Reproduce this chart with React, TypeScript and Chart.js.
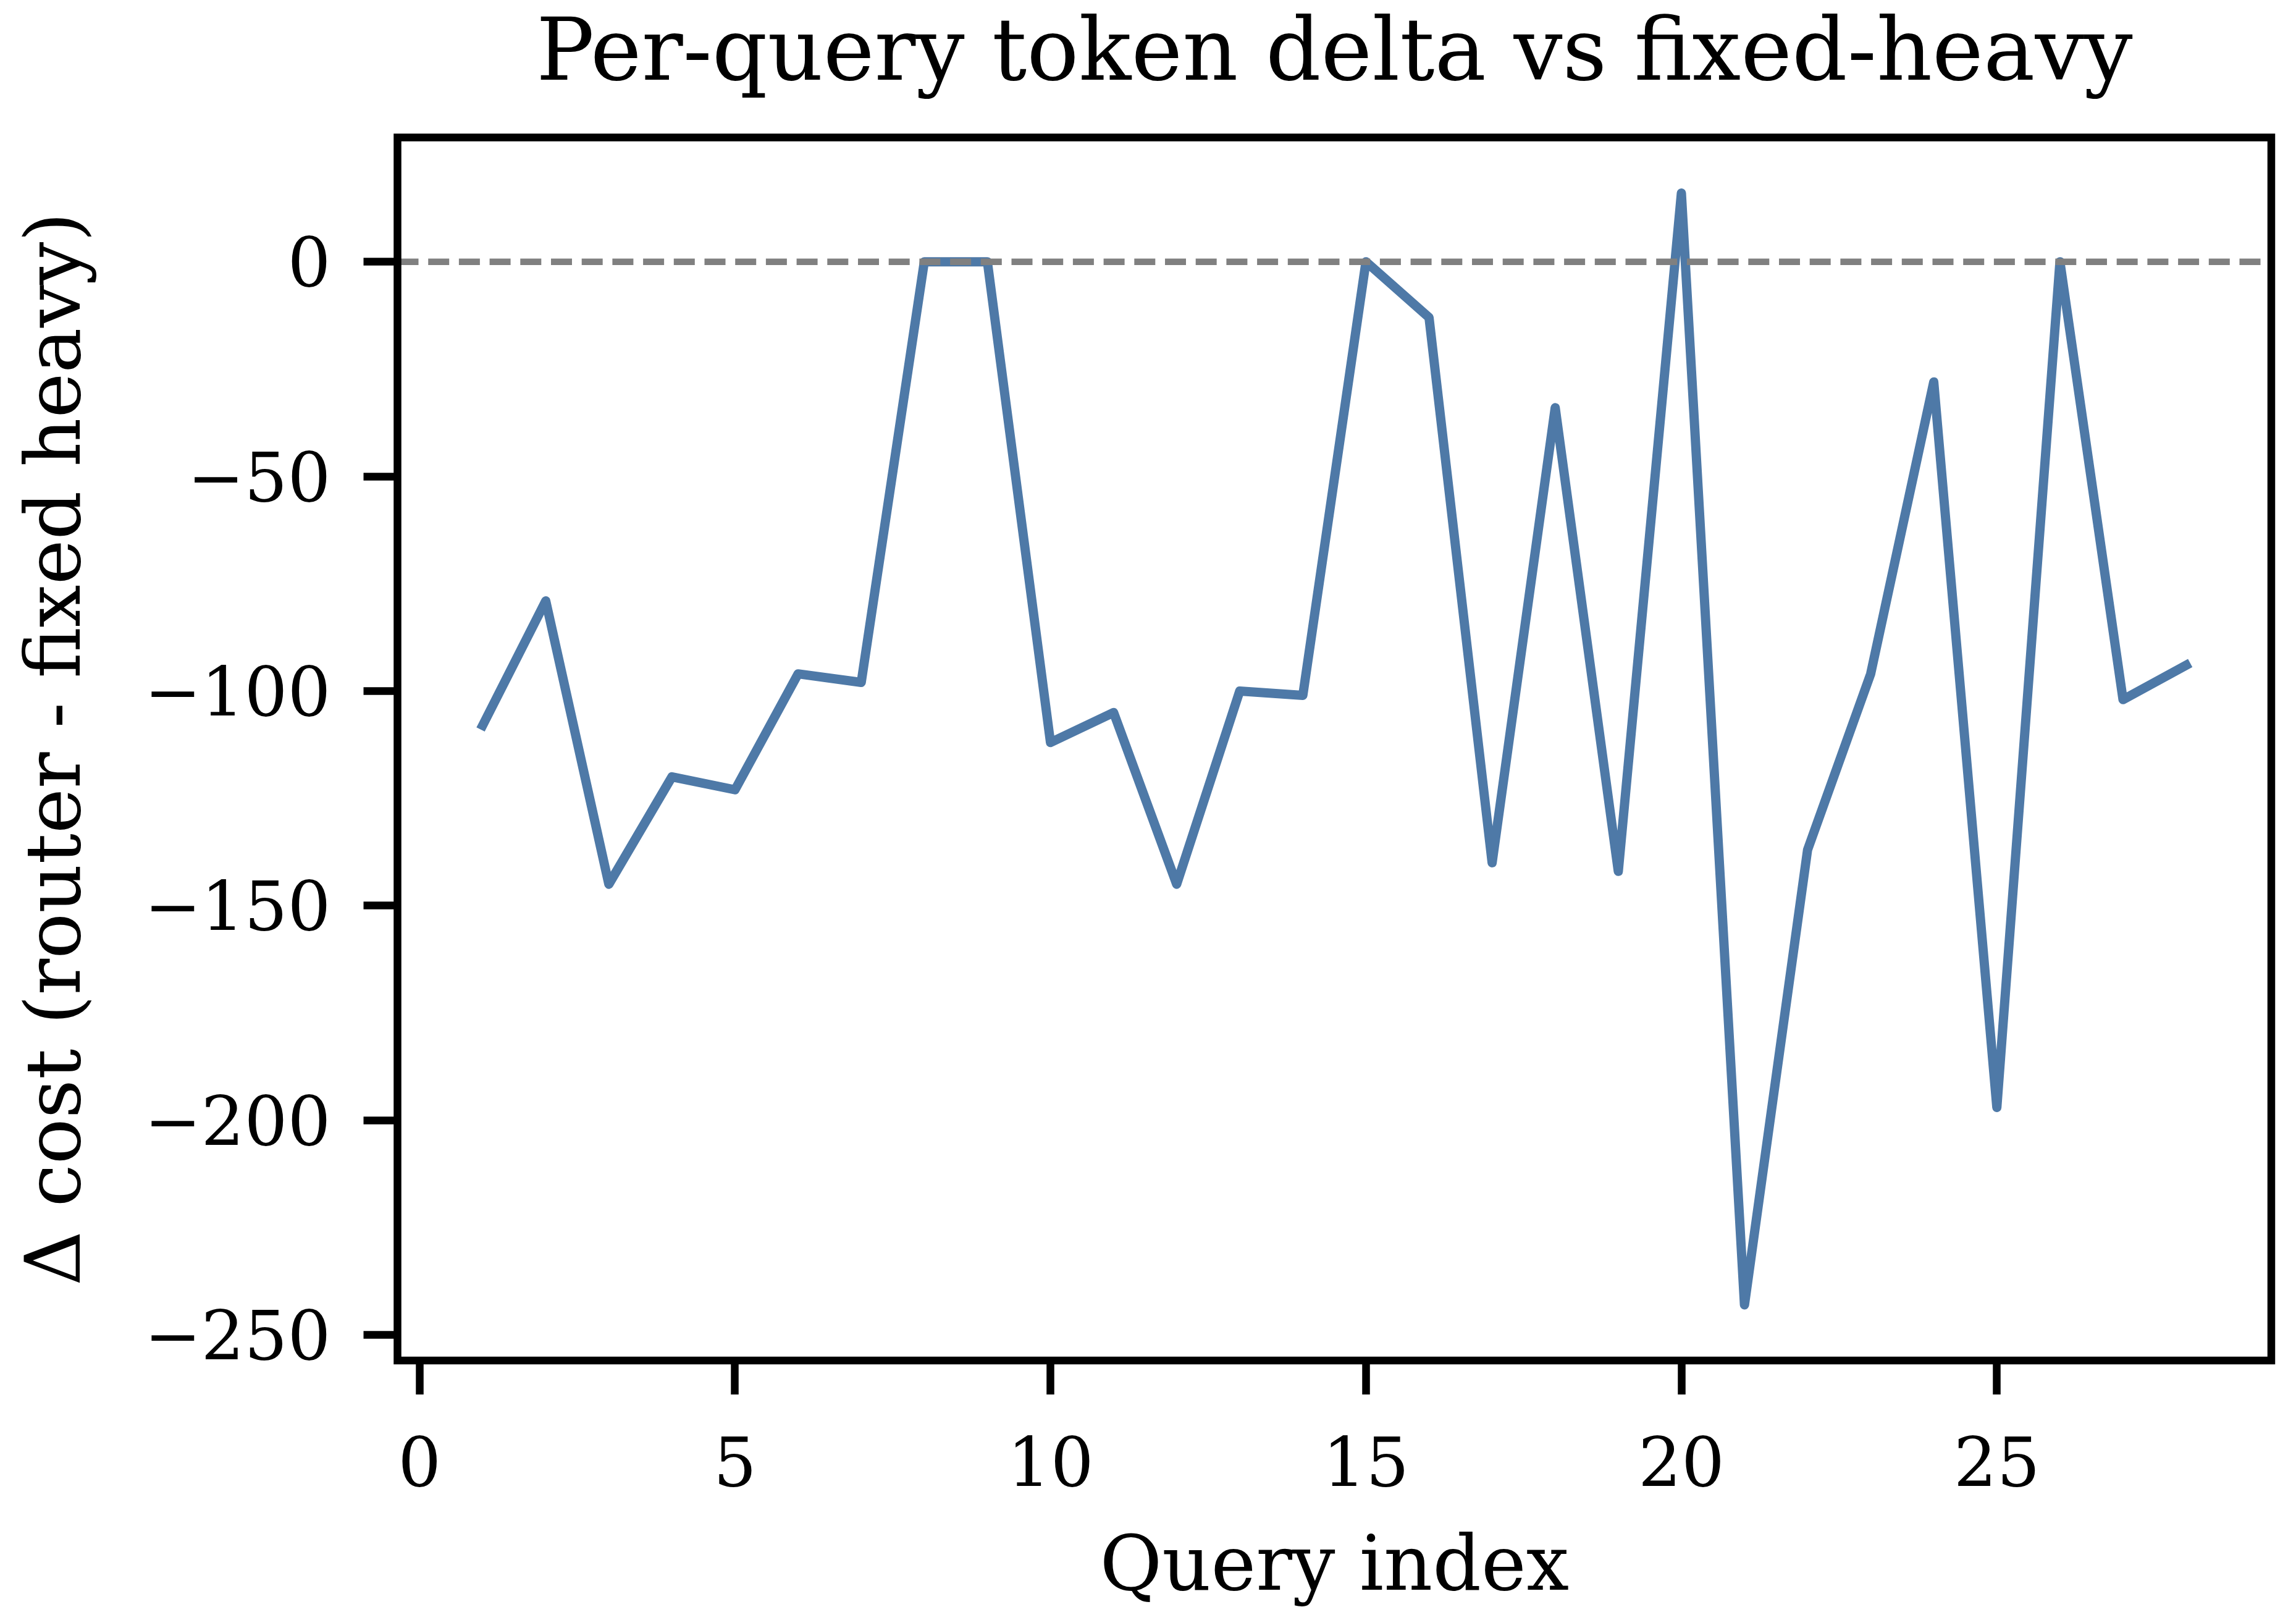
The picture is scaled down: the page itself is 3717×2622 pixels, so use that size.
import React, { useEffect, useRef } from 'react';
import { Chart, registerables } from 'chart.js';

Chart.register(...registerables);

// ---- data ----
const queryIndex = [1, 2, 3, 4, 5, 6, 7, 8, 9, 10, 11, 12, 13, 14, 15, 16, 17, 18, 19, 20, 21, 22, 23, 24, 25, 26, 27, 28];
const deltaCost = [-108, -79, -145, -120, -123, -96, -98, 0, 0, -112, -105, -145, -100, -101, 0, -13, -140, -34, -142, 16, -243, -137, -96, -28, -197, 0, -102, -94];
const xTickValues = [0, 5, 10, 15, 20, 25];
const yTickValues = [-250, -200, -150, -100, -50, 0];
const referenceY = 0;

const X_MIN = -0.35;
const X_MAX = 29.35;
const Y_MIN = -255.95;
const Y_MAX = 28.95;

const TITLE = 'Per-query token delta vs fixed-heavy';
const X_LABEL = 'Query index';
const Y_LABEL = '\u0394 cost (router - fixed heavy)';

const FONT = "'DejaVu Serif', serif";
const LINE_COLOR = '#4e79a7';

const fmt = (v: number) => (v < 0 ? '\u2212' + Math.abs(v) : String(v));

const framePlugin = {
  id: 'framePlugin',
  beforeDraw(chart: any) {
    const ctx = chart.ctx;
    ctx.save();
    ctx.fillStyle = '#ffffff';
    ctx.fillRect(0, 0, chart.width, chart.height);
    ctx.restore();
  },
  afterDatasetsDraw(chart: any) {
    const { ctx, chartArea } = chart;
    const yScale = chart.scales.y;
    const yPix = yScale.getPixelForValue(referenceY);
    ctx.save();
    ctx.strokeStyle = '#808080';
    ctx.lineWidth = 10.5;
    ctx.setLineDash([34, 15.7]);
    ctx.beginPath();
    ctx.moveTo(chartArea.left, yPix);
    ctx.lineTo(chartArea.right, yPix);
    ctx.stroke();
    ctx.setLineDash([]);
    ctx.strokeStyle = '#000000';
    ctx.lineWidth = 12.5;
    ctx.strokeRect(chartArea.left, chartArea.top, chartArea.right - chartArea.left, chartArea.bottom - chartArea.top);
    ctx.restore();
  },
};

export default function App() {
  const ref = useRef<HTMLCanvasElement | null>(null);

  useEffect(() => {
    if (!ref.current) return;
    const chart = new Chart(ref.current, {
      type: 'line',
      data: {
        datasets: [
          {
            data: queryIndex.map((q, i) => ({ x: q, y: deltaCost[i] })),
            borderColor: LINE_COLOR,
            borderWidth: 15,
            pointRadius: 0,
            fill: false,
            tension: 0,
            borderJoinStyle: 'round',
            borderCapStyle: 'square',
          },
        ],
      },
      options: {
        responsive: false,
        animation: false,
        devicePixelRatio: 1,
        layout: { padding: { left: 0, right: 40, top: 0, bottom: 0 } },
        plugins: {
          legend: { display: false },
          tooltip: { enabled: false },
          title: {
            display: true,
            text: TITLE,
            fullSize: false,
            color: '#000',
            font: { family: FONT, size: 140, weight: 'normal', lineHeight: 1.2 },
            padding: { top: 8.6, bottom: 45.9 },
          },
        },
        scales: {
          x: {
            type: 'linear',
            min: X_MIN,
            max: X_MAX,
            bounds: 'data',
            afterBuildTicks: (s: any) => {
              s.ticks = xTickValues.map((v) => ({ value: v }));
            },
            afterFit: (s: any) => {
              s.height = 420;
            },
            grid: {
              display: true,
              drawOnChartArea: false,
              drawTicks: true,
              tickLength: 55,
              tickWidth: 12.5,
              tickColor: '#000',
            },
            border: { display: false },
            ticks: {
              color: '#000',
              font: { family: FONT, size: 110, weight: 'normal' },
              padding: 53,
              maxRotation: 0,
              autoSkip: false,
              callback: (v: any) => fmt(Number(v)),
            },
            title: {
              display: true,
              text: X_LABEL,
              color: '#000',
              font: { family: FONT, size: 123, weight: 'normal', lineHeight: 1.2 },
              padding: { top: 0, bottom: 7.2 },
            },
          },
          y: {
            type: 'linear',
            min: Y_MIN,
            max: Y_MAX,
            bounds: 'data',
            afterBuildTicks: (s: any) => {
              s.ticks = yTickValues.map((v) => ({ value: v }));
            },
            afterFit: (s: any) => {
              s.width = 643.5;
            },
            grid: {
              display: true,
              drawOnChartArea: false,
              drawTicks: true,
              tickLength: 55,
              tickWidth: 12.5,
              tickColor: '#000',
            },
            border: { display: false },
            ticks: {
              color: '#000',
              font: { family: FONT, size: 110, weight: 'normal' },
              padding: 53,
              labelOffset: 11,
              autoSkip: false,
              callback: (v: any) => fmt(Number(v)),
            },
            title: {
              display: true,
              text: Y_LABEL,
              color: '#000',
              font: { family: FONT, size: 123, weight: 'normal', lineHeight: 1.2 },
              padding: { top: 23.2, bottom: 0 },
            },
          },
        },
      },
      plugins: [framePlugin],
    } as any);
    return () => chart.destroy();
  }, []);

  return (
    <div style={{ position: 'absolute', left: 0, top: 0, width: 3717, height: 2622, background: '#fff' }}>
      <canvas ref={ref} width={3717} height={2622} style={{ display: 'block', width: 3717, height: 2622 }} />
    </div>
  );
}
